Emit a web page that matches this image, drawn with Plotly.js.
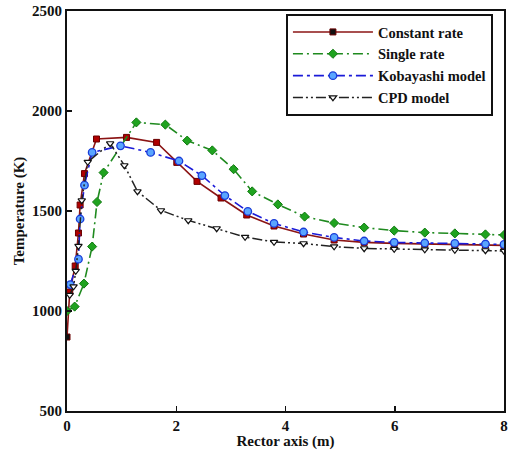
<!DOCTYPE html>
<html>
<head>
<meta charset="utf-8">
<script src="https://cdn.plot.ly/plotly-3.0.1.min.js"></script>
<style>html,body{margin:0;padding:0;background:#fff;}#chart{width:508px;height:450px;}</style>
</head>
<body>
<div id="chart"></div>
<script>
// Reactor axis position (m) and temperature (K)
const seriesNames = ["Constant rate", "Single rate", "Kobayashi model", "CPD model"];

const xConst = [0, 0.05, 0.15, 0.21, 0.24, 0.32, 0.54, 1.09, 1.64, 2.01, 2.38, 2.82, 3.29, 3.79, 4.33, 4.89, 5.44, 5.99, 6.55, 7.10, 7.66, 8.0];
const tConst = [870, 1095, 1225, 1390, 1530, 1687, 1860, 1868, 1843, 1743, 1648, 1565, 1480, 1425, 1385, 1355, 1343, 1338, 1335, 1333, 1330, 1328];

const xSingle = [0, 0.14, 0.31, 0.46, 0.55, 0.67, 1.27, 1.80, 2.20, 2.66, 3.05, 3.39, 3.86, 4.35, 4.89, 5.44, 5.99, 6.55, 7.10, 7.66, 8.0];
const tSingle = [1000, 1022, 1137, 1322, 1545, 1692, 1943, 1932, 1852, 1803, 1709, 1598, 1533, 1472, 1440, 1417, 1402, 1392, 1388, 1383, 1380];

const xKoba = [0.06, 0.21, 0.24, 0.32, 0.46, 0.98, 1.53, 2.05, 2.47, 2.89, 3.31, 3.79, 4.33, 4.89, 5.44, 5.99, 6.55, 7.10, 7.66, 8.0];
const tKoba = [1132, 1259, 1460, 1629, 1793, 1826, 1793, 1750, 1677, 1577, 1498, 1438, 1395, 1368, 1350, 1343, 1340, 1338, 1335, 1333];

const xCPD = [0.05, 0.12, 0.16, 0.21, 0.27, 0.38, 0.79, 1.05, 1.29, 1.72, 2.22, 2.74, 3.26, 3.79, 4.33, 4.89, 5.44, 5.99, 6.55, 7.10, 7.66, 8.0];
const tCPD = [1080, 1122, 1200, 1325, 1553, 1745, 1838, 1728, 1598, 1503, 1453, 1413, 1370, 1345, 1338, 1322, 1313, 1310, 1307, 1305, 1303, 1300];

const xTicks = [0, 2, 4, 6, 8];
const yTicks = [500, 1000, 1500, 2000, 2500];

const fontFam = "Liberation Serif, Times New Roman, serif";

const constColors = xConst.map((v, i) => i === 0 ? "#111111" : "#b00000");

const traces = [
  {
    x: xConst, y: tConst, name: seriesNames[0], mode: "lines+markers",
    line: {color: "#8b1414", width: 1.6},
    marker: {symbol: "square", size: 6, color: constColors, line: {color: "#6a0000", width: 1}}
  },
  {
    x: xSingle, y: tSingle, name: seriesNames[1], mode: "lines+markers",
    line: {color: "#1f8a1f", width: 1.6, dash: "10px,4px,2px,4px"},
    marker: {symbol: "diamond", size: 7, color: "#1fa31f", line: {color: "#117a11", width: 1}}
  },
  {
    x: xKoba, y: tKoba, name: seriesNames[2], mode: "lines+markers",
    line: {color: "#1a1ad8", width: 1.6, dash: "10px,4px,3px,4px"},
    marker: {symbol: "circle", size: 7.5, color: "#5aa5ff", line: {color: "#1a3cd8", width: 1.3}}
  },
  {
    x: xCPD, y: tCPD, name: seriesNames[3], mode: "lines+markers",
    line: {color: "#222222", width: 1.5, dash: "10px,3px,2px,3px,2px,3px"},
    marker: {symbol: "triangle-down", size: 6.5, color: "#ffffff", line: {color: "#111111", width: 1.2}}
  }
];

const layout = {
  width: 508, height: 450,
  margin: {l: 67, r: 4, t: 11, b: 39},
  paper_bgcolor: "#fff", plot_bgcolor: "#fff",
  font: {family: fontFam, size: 15, color: "#111", weight: "bold"},
  showlegend: true,
  legend: {
    x: 0.501, y: 0.9925, xanchor: "left", yanchor: "top",
    bordercolor: "#111", borderwidth: 2, bgcolor: "#fff",
    font: {family: fontFam, size: 14.5, color: "#111", weight: "bold"},
    itemwidth: 80, tracegroupgap: 0
  },
  xaxis: {
    range: [0, 8], tickvals: xTicks, ticktext: xTicks.map(String),
    ticks: "inside", ticklen: 5, tickwidth: 1.5, tickcolor: "#111",
    showline: true, linecolor: "#111", linewidth: 2, mirror: true,
    showgrid: false, zeroline: false,
    tickfont: {family: fontFam, size: 15, color: "#111", weight: "bold"},
    title: {text: "Rector axis (m)", standoff: 0, font: {family: fontFam, size: 15, color: "#111", weight: "bold"}}
  },
  yaxis: {
    range: [500, 2500], tickvals: yTicks, ticktext: yTicks.map(String),
    ticks: "inside", ticklen: 5, tickwidth: 1.5, tickcolor: "#111",
    showline: true, linecolor: "#111", linewidth: 2, mirror: true,
    showgrid: false, zeroline: false,
    tickfont: {family: fontFam, size: 15, color: "#111", weight: "bold"},
    title: {text: "Temperature (K)", standoff: 4, font: {family: fontFam, size: 15, color: "#111", weight: "bold"}}
  }
};

Plotly.newPlot("chart", traces, layout, {displayModeBar: false, staticPlot: true});
</script>
</body>
</html>
